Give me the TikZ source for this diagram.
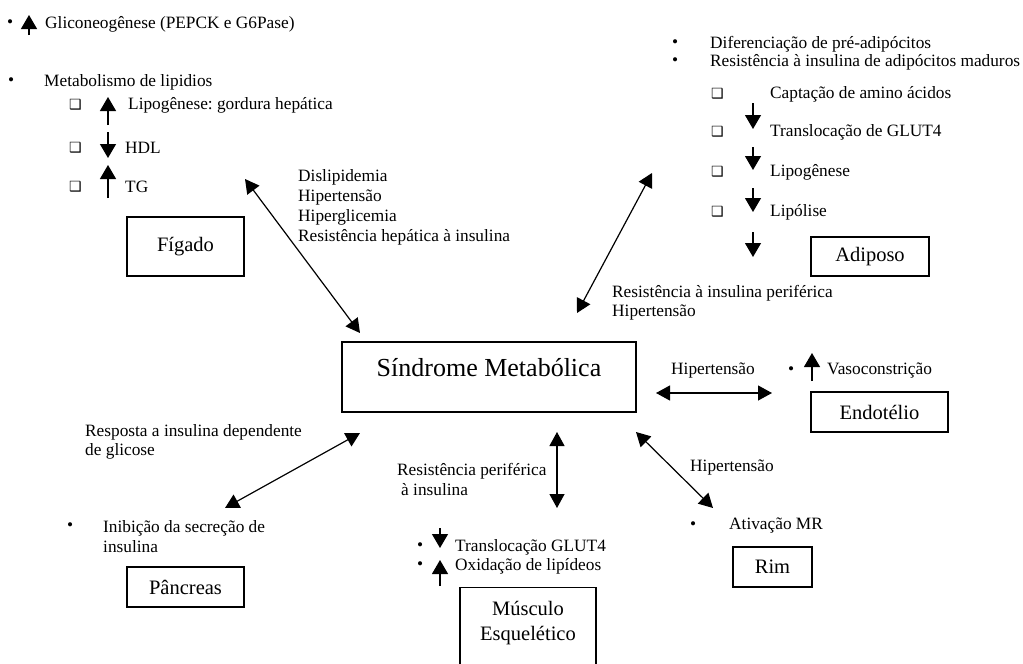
\documentclass[tikz,border=0pt]{standalone}
\usepackage{fontspec}
\setmainfont{Liberation Serif}
\newfontfamily\symfont{DejaVu Sans}
\usetikzlibrary{arrows.meta}
\newcommand{\sqb}{{\symfont\fontsize{14}{14}\selectfont ❑}}
\frenchspacing

\begin{document}
\begin{tikzpicture}[x=1pt, y=-1pt,
  txt/.style={font=\fontsize{17.3}{20}\selectfont, inner sep=0pt, anchor=west},
  lbl/.style={txt, align=left},
  box/.style={draw, line width=1.2pt, inner sep=0pt, font=\fontsize{20.5}{25}\selectfont},
  dbl/.style={{Triangle[length=14pt,width=15pt]}-{Triangle[length=14pt,width=15pt]}, line width=1.2pt},
  sarr/.style={-{Triangle[length=14pt,width=16pt]}, line width=1.2pt}]
  \useasboundingbox (0,0) rectangle (1023,664);
  \node[txt] (b1) at (7,24) {•};
  \draw[sarr] (29,35) -- (29,15);
  \node[txt] (glic) at (45,24) {Gliconeogênese (PEPCK e G6Pase)};
  \node[txt] (b2) at (8,82) {•};
  \node[txt] (lip) at (44,82) {Metabolismo de lipidios};
  \node[txt] (q1) at (69,105) {\sqb};
  \draw[sarr] (108,125) -- (108,97);
  \node[txt] (lipo) at (128,105) {Lipogênese: gordura hepática};
  \node[txt] (q2) at (69,148) {\sqb};
  \draw[sarr] (108,132) -- (108,158);
  \node[txt] (hdl) at (125,148) {HDL};
  \node[txt] (q3) at (69,187) {\sqb};
  \draw[sarr] (108,198) -- (108,165);
  \node[txt] (tg) at (125,187) {TG};
  \node[box, minimum width=117pt, minimum height=59pt] (figado) at (185.5,246.5) {Fígado};
  \node[lbl] (figlbl) at (298,207) {Dislipidemia\\Hipertensão\\Hiperglicemia\\Resistência hepática à insulina};
  \coordinate (f1) at (245,179);
  \coordinate (f2) at (360,333);
  \draw[dbl] (f1) -- (f2);
  \node[box, font=\fontsize{26}{30}\selectfont, minimum width=294pt, text height=34pt, text depth=36pt] (sm) at (489,377) {Síndrome Metabólica};
  \node[txt] (b3) at (672,44) {•};
  \node[txt] (dif) at (710,44) {Diferenciação de pré-adipócitos};
  \node[txt] (b4) at (672,62) {•};
  \node[txt] (res) at (710,62) {Resistência à insulina de adipócitos maduros};
  \node[txt] (q4) at (711,94) {\sqb};
  \node[txt] (q5) at (711,132) {\sqb};
  \node[txt] (q6) at (711,172) {\sqb};
  \node[txt] (q7) at (711,212) {\sqb};
  \node[txt] (capt) at (770,94) {Captação de amino ácidos};
  \node[txt] (transl) at (770,132) {Translocação de GLUT4};
  \node[txt] (lipog) at (770,172) {Lipogênese};
  \node[txt] (lipol) at (770,212) {Lipólise};
  \draw[sarr] (753,103) -- (753,129);
  \draw[sarr] (753,147) -- (753,170);
  \draw[sarr] (753,188) -- (753,212);
  \draw[sarr] (753,232) -- (753,257);
  \node[box, minimum width=118pt, minimum height=39pt] (adiposo) at (870,256.5) {Adiposo};
  \coordinate (a1) at (652,173);
  \coordinate (a2) at (577,313);
  \draw[dbl] (a1) -- (a2);
  \node[lbl, font=\fontsize{17.3}{19}\selectfont] (adlbl) at (612,302.5) {Resistência à insulina periférica\\Hipertensão};
  \coordinate (e1) at (656,393);
  \coordinate (e2) at (772,393);
  \draw[dbl] (e1) -- (e2);
  \node[txt, anchor=center] (hip1) at (713,371) {Hipertensão};
  \node[txt] (b5) at (788,371) {•};
  \draw[sarr] (812,381) -- (812,353);
  \node[txt] (vaso) at (827,371) {Vasoconstrição};
  \node[box, minimum width=137pt, minimum height=40pt] (endotelio) at (879.5,412) {Endotélio};
  \coordinate (r1) at (636,432);
  \coordinate (r2) at (713,508);
  \draw[dbl] (r1) -- (r2);
  \node[txt] (hip2) at (690,468) {Hipertensão};
  \node[txt] (b6) at (690,526) {•};
  \node[txt] (mr) at (729,526) {Ativação MR};
  \node[box, minimum width=79pt, minimum height=40pt] (rim) at (772.5,567) {Rim};
  \coordinate (m1) at (557,432);
  \coordinate (m2) at (557,508);
  \draw[dbl] (m1) -- (m2);
  \node[lbl] (mlbl) at (397,479) {Resistência periférica\\\hspace{4pt}à insulina};
  \node[txt] (b7) at (417,547) {•};
  \node[txt] (b8) at (417,566) {•};
  \draw[sarr] (440,528) -- (440,548);
  \draw[sarr] (440,586) -- (440,560);
  \node[txt] (glut) at (455,547) {Translocação GLUT4};
  \node[txt] (oxi) at (455,566) {Oxidação de lipídeos};
  \node[box, anchor=north, minimum width=136pt, align=center, text height=53pt, text depth=29pt] (musculo) at (528,587) {Músculo\\Esquelético};
  \node[lbl, font=\fontsize{17.3}{19}\selectfont] (plbl) at (85,441.5) {Resposta a insulina dependente\\de glicose};
  \coordinate (p1) at (360,433);
  \coordinate (p2) at (225,508);
  \draw[dbl] (p1) -- (p2);
  \node[txt] (b9) at (67,527) {•};
  \node[lbl] (ini) at (103,537) {Inibição da secreção de\\insulina};
  \node[box, minimum width=117pt, minimum height=40pt] (pancreas) at (185.5,587) {Pâncreas};
\end{tikzpicture}
\end{document}
